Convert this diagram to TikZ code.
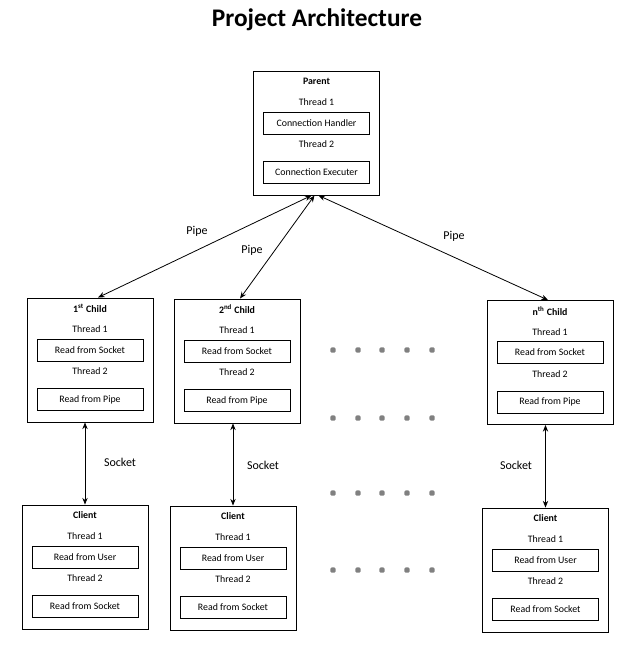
\documentclass[tikz,border=0pt]{standalone}
\usepackage{fontspec}
\setmainfont{Carlito}
\usetikzlibrary{positioning, calc, arrows.meta}
\tikzstyle{Arrow} = [
%double headed connector
line width = 0.6pt, {Stealth[length=5pt, width=4pt]}-{Stealth[length=5pt, width=4pt]}
]
% one box with a title and two threads
\newcommand{\unitbox}[6]{
	\node[outer](#1) at (#2){};
	\node[label] at ($(#1.north)+(0,11)$){\textbf{#3}};
	\node[label] at ($(#1.north)+(0,32)$){Thread 1};
	\node[inner](#1a) at ($(#1.north)+(0,52.5)$){#4};
	\node[label] at ($(#1.north)+(0,74)$){Thread 2};
	\node[inner](#1b) at ($(#1.north)+(0,102)$){#5};
}
\begin{document}
\begin{tikzpicture}[x=0.75pt, y=-0.75pt,
		outer/.style = {rectangle, draw, line width = 0.7pt, minimum width = 94.5pt, minimum height = 93pt, inner sep = 0pt},
		inner/.style = {rectangle, draw, line width = 0.6pt, minimum width = 79.5pt, minimum height = 16.5pt, inner sep = 0pt, font = \fontsize{7.4}{8}\selectfont},
		label/.style = {inner sep = 0pt, font = \fontsize{7.4}{8}\selectfont},
		link/.style = {inner sep = 0pt, font = \fontsize{9}{10}\selectfont},
		dot/.style = {rectangle, rounded corners = 1pt, fill = gray, minimum size = 4pt, inner sep = 0pt},
	]
	\useasboundingbox (0,0) rectangle (636,653);

	\node[font = \fontsize{19}{22}\selectfont\bfseries](title) at (317,20){Project Architecture};

	\unitbox{P}{316.5,133}{Parent}{Connection Handler}{Connection Executer}{}
	\unitbox{C1}{90,360}{1\textsuperscript{st} Child}{Read from Socket}{Read from Pipe}{}
	\unitbox{C2}{237,361}{2\textsuperscript{nd} Child}{Read from Socket}{Read from Pipe}{}
	\unitbox{Cn}{550,362.5}{n\textsuperscript{th} Child}{Read from Socket}{Read from Pipe}{}
	\unitbox{K1}{85,567}{Client}{Read from User}{Read from Socket}{}
	\unitbox{K2}{233,568}{Client}{Read from User}{Read from Socket}{}
	\unitbox{Kn}{545.5,570}{Client}{Read from User}{Read from Socket}{}

	% pipes
	\draw[Arrow]($(C1.north)+(8,0)$)--($(P.south)+(-5,0)$);
	\draw[Arrow]($(C2.north)+(3,0)$)--($(P.south)+(-2,0)$);
	\draw[Arrow]($(Cn.north)+(-2,0)$)--($(P.south)+(2,0)$);
	\node[link] at (197,231){Pipe};
	\node[link] at (252,250){Pipe};
	\node[link] at (454,236){Pipe};

	% sockets
	\draw[Arrow](K1.north |- C1.south)--(K1.north);
	\draw[Arrow](K2.north |- C2.south)--(K2.north);
	\draw[Arrow](Kn.north |- Cn.south)--(Kn.north);
	\node[link] at (120,462){Socket};
	\node[link] at (263,465){Socket};
	\node[link] at (516,465){Socket};

	% dots between the 2nd and nth columns
	\foreach \y in {350,418,493,570}
		\foreach \x in {333,358,382,407,432}
			\node[dot] at (\x,\y){};
\end{tikzpicture}
\end{document}
